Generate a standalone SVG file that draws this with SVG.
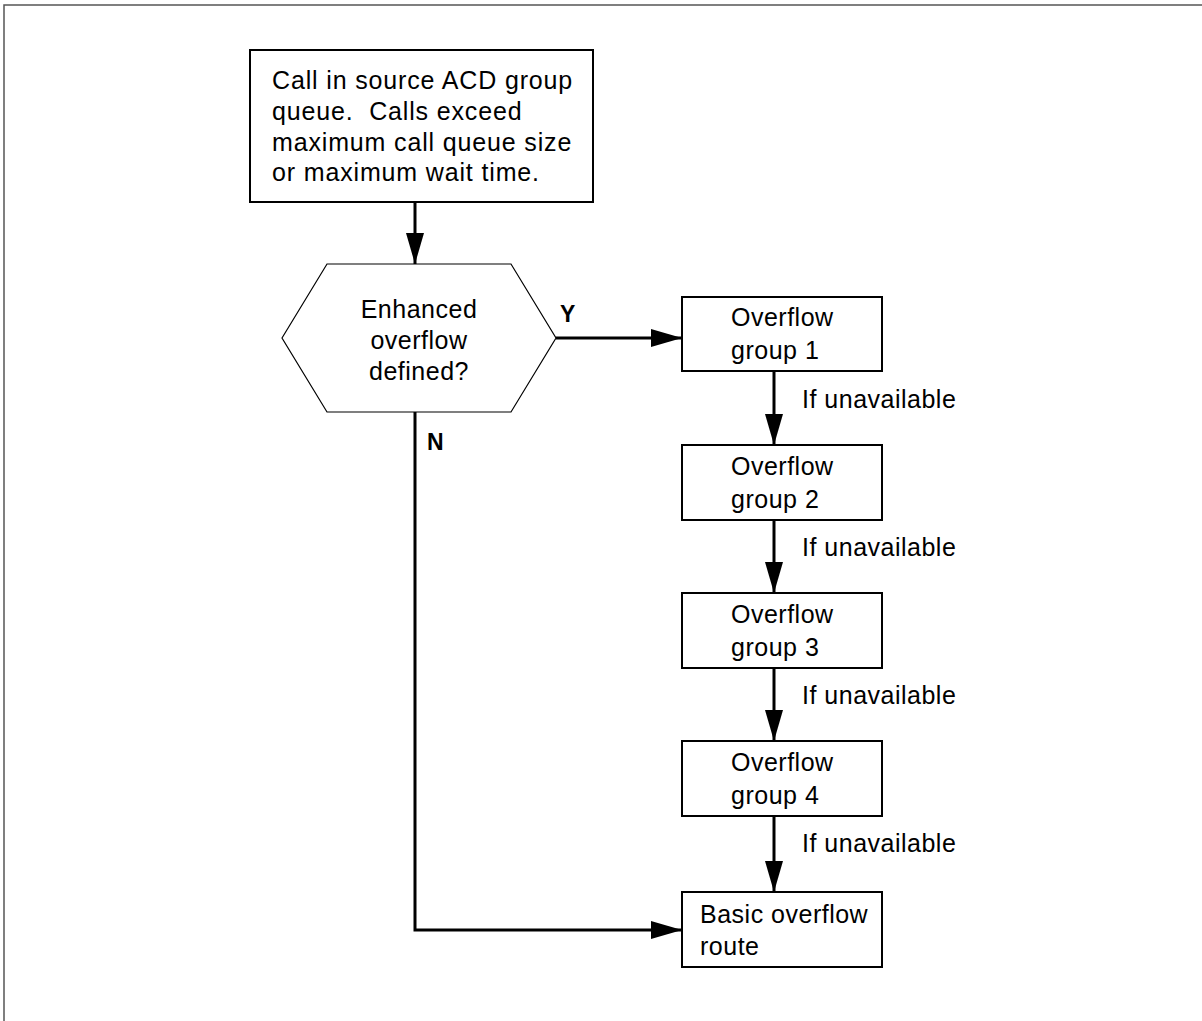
<svg xmlns="http://www.w3.org/2000/svg" width="1202" height="1021" viewBox="0 0 1202 1021">
<style>
  .box { fill: #fff; stroke: #000; stroke-width: 2; }
  .hex { fill: #fff; stroke: #000; stroke-width: 1.2; }
  .t { font-family: "Liberation Sans", Arial, Helvetica, sans-serif; font-size: 25px; letter-spacing: 0.5px; fill: #000; }
  .tw { letter-spacing: 0.85px; }
  .b { font-family: "Liberation Sans", Arial, Helvetica, sans-serif; font-size: 23px; font-weight: bold; fill: #000; }
  .c { fill: none; stroke: #000; stroke-width: 3; }
  .frame { fill: none; stroke: #555; stroke-width: 1.5; }
</style>
<defs>
  <marker id="ah" markerUnits="userSpaceOnUse" markerWidth="32" markerHeight="18" refX="31" refY="9" orient="auto">
    <path d="M0,0 L31,9 L0,18 z" fill="#000"/>
  </marker>
</defs>
<rect width="1202" height="1021" fill="#fff"/>
<path class="frame" d="M4,1021 L4,5 L1202,5"/>

<g id="start">
  <rect class="box" x="250" y="50" width="343" height="152"/>
  <text class="t tw" x="272" y="88.5">Call in source ACD group</text>
  <text class="t tw" x="272" y="120" xml:space="preserve">queue.  Calls exceed</text>
  <text class="t tw" x="272" y="151">maximum call queue size</text>
  <text class="t tw" x="272" y="181">or maximum wait time.</text>
</g>

<g id="decision">
  <polygon class="hex" points="282,338 327,264 511,264 556,338 511,412 327,412"/>
  <text class="t" x="419" y="318" text-anchor="middle">Enhanced</text>
  <text class="t" x="419" y="349" text-anchor="middle">overflow</text>
  <text class="t" x="419" y="380" text-anchor="middle">defined?</text>
</g>

<g id="og1">
  <rect class="box" x="682" y="297" width="200" height="74"/>
  <text class="t" x="731" y="326">Overflow</text>
  <text class="t" x="731" y="359">group 1</text>
</g>
<g id="og2">
  <rect class="box" x="682" y="445" width="200" height="75"/>
  <text class="t" x="731" y="475">Overflow</text>
  <text class="t" x="731" y="508">group 2</text>
</g>
<g id="og3">
  <rect class="box" x="682" y="593" width="200" height="75"/>
  <text class="t" x="731" y="623">Overflow</text>
  <text class="t" x="731" y="656">group 3</text>
</g>
<g id="og4">
  <rect class="box" x="682" y="741" width="200" height="75"/>
  <text class="t" x="731" y="771">Overflow</text>
  <text class="t" x="731" y="804">group 4</text>
</g>
<g id="basic">
  <rect class="box" x="682" y="892" width="200" height="75"/>
  <text class="t" x="700" y="923">Basic overflow</text>
  <text class="t" x="700" y="955">route</text>
</g>

<g id="connectors">
  <line class="c" x1="415" y1="202" x2="415" y2="264" marker-end="url(#ah)"/>
  <line class="c" x1="556" y1="338" x2="682" y2="338" marker-end="url(#ah)"/>
  <polyline class="c" points="415,412 415,930 682,930" marker-end="url(#ah)"/>
  <line class="c" x1="774" y1="371" x2="774" y2="445" marker-end="url(#ah)"/>
  <line class="c" x1="774" y1="520" x2="774" y2="593" marker-end="url(#ah)"/>
  <line class="c" x1="774" y1="668" x2="774" y2="741" marker-end="url(#ah)"/>
  <line class="c" x1="774" y1="816" x2="774" y2="892" marker-end="url(#ah)"/>
  <text class="b" x="560" y="322">Y</text>
  <text class="b" x="427" y="450">N</text>
  <text class="t" x="802" y="408">If unavailable</text>
  <text class="t" x="802" y="556">If unavailable</text>
  <text class="t" x="802" y="704">If unavailable</text>
  <text class="t" x="802" y="852">If unavailable</text>
</g>
</svg>
